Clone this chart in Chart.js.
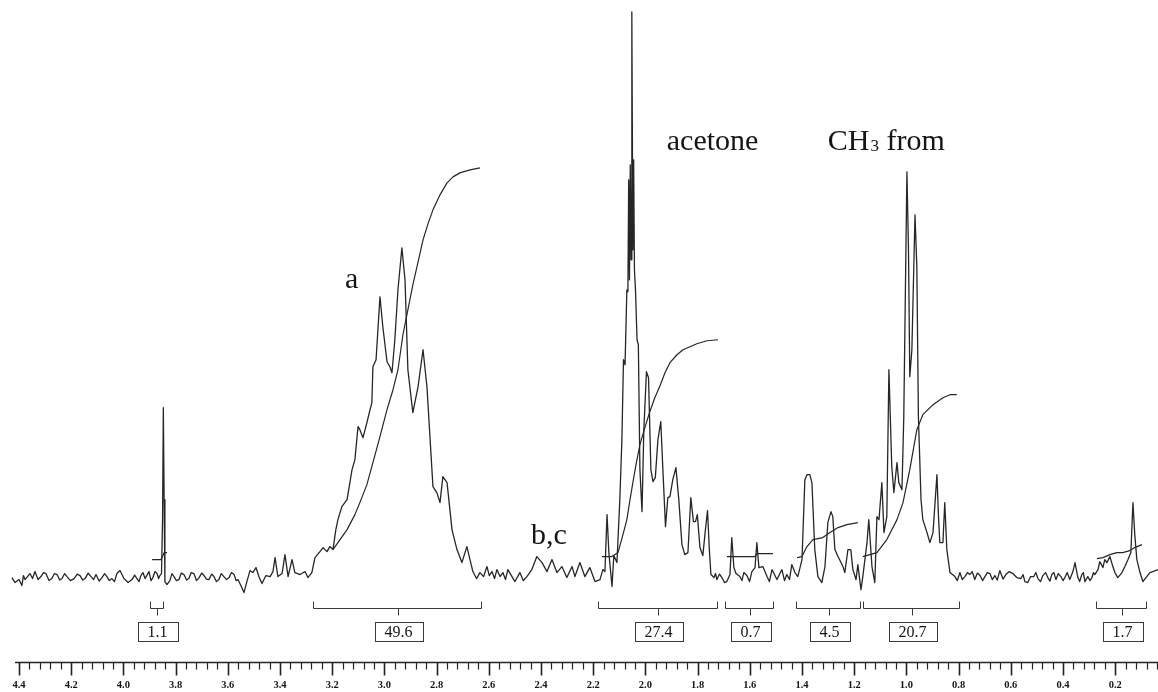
<!DOCTYPE html>
<html><head><meta charset="utf-8">
<script src="https://cdn.jsdelivr.net/npm/chart.js@4.4.1/dist/chart.umd.min.js"></script>
<style>html,body{margin:0;padding:0;background:#fff}canvas{display:block}</style>
</head><body>
<canvas id="c" width="1158" height="692"></canvas>
<script>
// ---- tick labels (ppm) ----
const tickLabels = ['4.4','4.2','4.0','3.8','3.6','3.4','3.2','3.0','2.8','2.6','2.4','2.2','2.0','1.8','1.6','1.4','1.2','1.0','0.8','0.6','0.4','0.2'];

// ---- 1H spectrum: [chemical shift ppm, intensity] ----
const spectrum = [
[4.427,0],[4.415,-1],[4.400,-0.4],[4.389,-1.6],[4.383,0.4],[4.377,-0.4],[4.358,0.8],[4.348,-0.2],[4.339,1.2],[4.327,-0.4],
[4.316,0.2],[4.306,1.0],[4.297,0.8],[4.285,-0.6],[4.274,-0.2],[4.264,0.8],[4.254,0.6],[4.244,-0.5],[4.235,-0.2],[4.225,0.8],
[4.216,0.2],[4.203,-0.6],[4.189,-0.2],[4.177,0.7],[4.166,0.4],[4.156,-0.5],[4.147,-0.2],[4.135,0.9],[4.124,0.2],[4.114,-0.4],
[4.105,0.6],[4.093,-0.7],[4.082,0],[4.072,0.8],[4.063,0.2],[4.054,-0.6],[4.044,-0.2],[4.034,-0.8],[4.025,0.8],[4.013,1.4],
[3.998,-0.2],[3.982,-1],[3.967,-0.4],[3.957,0.5],[3.948,-0.2],[3.940,-0.8],[3.933,0.4],[3.925,1.0],[3.917,-0.2],[3.902,1.2],
[3.894,-0.6],[3.887,0],[3.879,1.2],[3.871,0.8],[3.865,-0.2],[3.860,0.4],[3.854,0.8],[3.850,11.6],[3.847,34],[3.844,15.6],
[3.841,-0.8],[3.833,-1.4],[3.822,-0.6],[3.814,0.8],[3.806,0.2],[3.797,-0.6],[3.787,-0.4],[3.778,0.9],[3.768,0.6],[3.758,-0.5],
[3.749,-0.2],[3.740,1.0],[3.730,0.8],[3.720,-0.6],[3.710,0],[3.700,0.9],[3.691,0.4],[3.682,-0.3],[3.672,-0.4],[3.662,0.7],
[3.653,0.2],[3.644,-0.8],[3.634,-0.4],[3.625,0.8],[3.615,0.2],[3.605,-0.4],[3.595,0],[3.586,1.0],[3.576,0.6],[3.568,-0.6],
[3.561,-0.4],[3.550,-1.6],[3.538,-3],[3.527,-0.8],[3.515,1.4],[3.504,1],[3.492,2],[3.481,0.2],[3.469,-1.2],[3.454,0.4],
[3.438,0.2],
[3.427,1.2],[3.419,4],[3.408,0.2],[3.392,0.8],[3.381,4.6],[3.369,0.2],[3.354,3.6],[3.343,1],[3.323,0.6],[3.304,1.2],
[3.293,0],[3.278,1],[3.266,4],[3.247,5.2],[3.235,6],[3.220,5.2],[3.209,6.2],[3.197,5.6],[3.186,9.6],[3.178,11.6],
[3.163,14.2],[3.143,15.6],[3.124,21.6],[3.113,23.6],[3.101,30.2],[3.094,29.6],[3.082,28],[3.067,31],[3.055,33.6],[3.048,35],
[3.044,42.2],[3.032,43.6],[3.017,56.2],[3.006,50.2],[2.990,43.2],[2.979,42.2],[2.971,41],[2.960,47.6],[2.948,57.6],[2.933,66],
[2.921,59.6],[2.910,41.6],[2.891,33],[2.871,38.2],[2.852,45.6],[2.837,38.2],[2.814,18.2],[2.799,17],[2.787,15],[2.776,20.2],
[2.760,19],[2.741,9.6],[2.722,5.6],[2.703,3],[2.684,6.2],[2.672,3.6],[2.661,1.2],[2.647,-0.2],[2.634,1],[2.620,0.2],[2.607,2.2],
[2.598,0.4],[2.588,1.2],[2.578,-0.2],[2.569,1.6],[2.557,0.2],[2.546,1],[2.536,-0.4],[2.527,1.6],
[2.500,-0.8],[2.481,1],[2.468,-0.6],[2.454,0.2],[2.435,1.6],[2.416,4.2],[2.396,3],[2.377,1.2],[2.358,3.6],[2.339,1],[2.320,2.2],
[2.301,0],[2.281,2.2],[2.270,0.2],[2.251,3],[2.232,0.2],[2.213,2],[2.193,-0.8],[2.174,-0.4],[2.163,1.6],[2.155,1.2],
[2.147,12.6],[2.140,5],[2.128,-1.8],[2.121,4.4],[2.109,3],
[2.098,15.6],[2.090,27.6],[2.084,43.6],[2.078,42.6],[2.071,57.6],[2.067,57.2],[2.064,79.6],[2.061,59.6],[2.058,82.6],[2.055,63.6],
[2.052,113.2],[2.048,65.6],[2.045,83.6],[2.042,61.6],[2.038,57.6],[2.032,47.6],[2.027,46.6],[2.021,21.6],[2.013,13.2],[2.006,29.6],
[1.996,41.2],[1.988,40],[1.979,21.6],[1.971,19.2],[1.962,20],[1.952,27.6],[1.941,31.2],[1.933,21.6],[1.923,10.2],[1.914,16],
[1.906,16.2],[1.895,19.6],[1.883,22],[1.872,15.6],[1.860,6.6],[1.849,4.6],[1.837,5],[1.826,16],[1.816,11.2],[1.808,11.2],
[1.801,12.6],[1.791,6],[1.780,4.4],[1.770,9.6],[1.762,13.4],[1.755,5.6],[1.749,0.6],
[1.737,0],[1.731,0.8],[1.726,-0.4],[1.716,0.7],[1.707,0],[1.697,-1.0],[1.688,-0.8],[1.676,0.6],[1.669,8],[1.661,2],[1.653,0.8],
[1.638,0.2],[1.630,-0.6],[1.623,1],[1.611,0.4],[1.601,-0.8],[1.592,1.2],[1.580,2],[1.573,7],[1.565,2],[1.550,2.2],[1.534,0.2],
[1.525,-0.8],[1.515,1.6],[1.496,-0.4],[1.477,1.6],[1.467,-0.6],[1.458,0.6],[1.448,-0.4],[1.439,2.6],[1.427,1],[1.416,0.2],[1.400,3.6],
[1.389,19.6],[1.381,20.6],[1.370,20.6],[1.362,19],[1.351,5.6],[1.339,0.2],[1.324,-1],[1.312,2.2],[1.301,11],[1.289,13.2],
[1.282,12.2],[1.274,5.6],[1.262,4.2],[1.243,2.2],[1.236,1],[1.224,5.6],[1.213,5.6],[1.205,1.6],[1.193,-0.4],[1.186,2.6],
[1.174,-2.4],[1.167,0.2],[1.151,7],[1.144,11.6],[1.132,2.2],[1.121,-1],[1.113,12.2],[1.105,11.6],[1.094,19],[1.086,9],
[1.075,12.2],[1.067,41.6],[1.056,22.2],[1.048,17],[1.036,23],[1.029,19],[1.017,17.6],[1.010,32.2],[0.998,81.2],[0.992,65.6],
[0.987,40.2],[0.979,45.6],[0.967,72.6],[0.960,62.2],[0.954,32.2],[0.944,15.6],[0.937,11.6],[0.921,9],[0.910,7],[0.898,9],
[0.883,20.6],[0.877,12.2],[0.872,7],[0.860,7],[0.853,15],[0.845,5.6],[0.833,1],[0.814,0.2],
[0.805,-0.6],[0.795,1],[0.786,-0.4],[0.776,0.2],[0.766,1.0],[0.757,0.6],[0.748,1.2],[0.738,-0.4],[0.728,0.9],[0.718,0.4],
[0.708,-0.6],[0.699,0.2],[0.690,1.0],[0.680,0.8],[0.671,-0.4],[0.661,0.4],[0.652,-0.5],[0.642,1.4],[0.630,-0.3],[0.619,0.6],
[0.606,1.2],[0.592,0.8],[0.577,0],[0.561,-0.2],[0.553,0.6],[0.546,-0.8],[0.535,-1],[0.524,0.2],[0.512,0.2],[0.504,1.0],
[0.496,-0.2],[0.486,-0.8],[0.477,0.4],[0.467,1.0],[0.458,0],[0.450,-0.7],[0.443,0.6],[0.435,1.0],[0.427,-0.4],[0.418,0.8],
[0.408,0.2],[0.400,-0.6],[0.393,0],[0.384,1.0],[0.374,-0.4],[0.362,1.2],[0.354,3],[0.343,0],[0.336,-0.8],[0.328,0.6],
[0.322,1.0],[0.316,-0.8],[0.305,0.2],[0.297,-0.6],[0.289,0],[0.283,1.0],[0.278,0.6],[0.266,1.6],[0.259,3.2],[0.247,2],
[0.240,3.6],[0.232,3],[0.220,4.2],[0.209,2.2],[0.201,1],[0.190,0],[0.174,1],[0.163,2.2],[0.151,3.6],[0.140,5],
[0.132,15],[0.125,8.6],[0.117,3.6],[0.105,1],[0.094,-0.8],[0.079,0.2],[0.067,1],[0.056,1.2],[0.036,1.6]
];

// ---- integral traces: [ppm, integral level] ----
const integralCurve1 = [[3.890,3.6],[3.856,3.6],[3.850,4.2],[3.844,5],[3.833,5]];
const integralCurve2 = [[3.197,5.6],[3.170,7.6],[3.143,9.6],[3.113,12.6],[3.094,15],[3.067,18.6],[3.044,23],[3.017,28.2],[2.990,33.6],[2.967,37.6],[2.948,41.6],[2.929,48.6],[2.910,53.6],[2.891,58.6],[2.871,63.2],[2.852,67.6],[2.833,70.8],[2.814,73.6],[2.787,76.6],[2.760,79],[2.737,80.2],[2.711,81],[2.672,81.6],[2.634,82]];
const integralCurve3 = [[2.167,4.2],[2.128,4.2],[2.105,5],[2.086,8.6],[2.071,11.6],[2.059,15.6],[2.048,19],[2.036,22.6],[2.021,26.6],[2.002,30],[1.983,33.2],[1.964,36],[1.944,38.4],[1.925,41],[1.906,43],[1.879,44.6],[1.856,45.6],[1.829,46.2],[1.803,46.8],[1.764,47.4],[1.722,47.6]];
const integralCurve4 = [[1.688,4.2],[1.580,4.2],[1.573,4.8],[1.511,4.8]];
const integralCurve5 = [[1.419,4],[1.400,4.2],[1.381,6.2],[1.358,7.6],[1.320,8],[1.293,9],[1.262,10],[1.228,10.6],[1.186,11]];
const integralCurve6 = [[1.167,4.2],[1.113,5],[1.075,7.6],[1.036,11.6],[1.013,15],[0.987,21.6],[0.960,29.6],[0.937,32.6],[0.898,34.6],[0.860,36],[0.833,36.6],[0.807,36.6]];
const integralCurve7 = [[0.270,3.8],[0.247,4],[0.220,4.6],[0.194,5],[0.171,5],[0.144,5.4],[0.125,6],[0.098,6.6]];

// ---- integration regions (ppm from, to) and their values ----
const integralRanges = [[3.898,3.848],[3.274,2.630],[2.182,1.726],[1.695,1.511],[1.423,1.178],[1.166,0.799],[0.274,0.083]];
const integralValues = ['1.1','49.6','27.4','0.7','4.5','20.7','1.7'];

// ---- peak annotations ----
const peakLabels = [
  {text:'a', shift:3.151, level:58},
  {text:'b,c', shift:2.438, level:6.8},
  {text:'acetone', shift:1.918, level:85.6},
  {text:'CH', sub:'3', tail:' from', shift:1.301, level:85.6}
];

const INK = '#262626';
const toXY = a => a.map(([x,y]) => ({x, y}));
const integralCurves = [integralCurve1,integralCurve2,integralCurve3,integralCurve4,integralCurve5,integralCurve6,integralCurve7];

const decor = {
  id: 'decor',
  afterDatasetsDraw(chart) {
    const {ctx, chartArea, scales:{x, y}} = chart;
    ctx.save();
    ctx.fillStyle = '#151515';
    ctx.strokeStyle = '#3a3a3a';
    // peak labels
    ctx.textAlign = 'left'; ctx.textBaseline = 'alphabetic';
    peakLabels.forEach(l => {
      let px = x.getPixelForValue(l.shift);
      const py = y.getPixelForValue(l.level);
      ctx.font = '30px "Liberation Serif"';
      ctx.fillText(l.text, px, py);
      if (l.sub) {
        px += ctx.measureText(l.text).width + 1;
        ctx.font = '17px "Liberation Serif"';
        ctx.fillText(l.sub, px, py + 1);
        px += ctx.measureText(l.sub).width;
        ctx.font = '30px "Liberation Serif"';
        ctx.fillText(l.tail, px, py);
      }
    });
    // integral brackets and boxes
    const by = Math.round(chartArea.bottom - 54) + 0.5;
    ctx.lineWidth = 1;
    integralRanges.forEach((r, i) => {
      const x1 = Math.round(x.getPixelForValue(r[0])) + 0.5;
      const x2 = Math.round(x.getPixelForValue(r[1])) + 0.5;
      const xc = Math.round((x1 + x2) / 2) + 0.5;
      ctx.beginPath();
      ctx.moveTo(x1, by - 7); ctx.lineTo(x1, by); ctx.lineTo(x2, by); ctx.lineTo(x2, by - 7);
      ctx.moveTo(xc, by); ctx.lineTo(xc, by + 7);
      ctx.stroke();
      ctx.font = '16px "Liberation Serif"';
      const w = Math.round(ctx.measureText(integralValues[i]).width + 20);
      ctx.strokeRect(Math.round(xc - w / 2) + 0.5, by + 14, w, 19);
      ctx.textAlign = 'center'; ctx.textBaseline = 'middle';
      ctx.fillText(integralValues[i], xc, by + 24);
    });
    // axis line and tick marks
    const ay = Math.round(chartArea.bottom) + 0.5;
    ctx.strokeStyle = '#222';
    ctx.lineWidth = 1.5;
    ctx.beginPath();
    ctx.moveTo(x.getPixelForValue(4.415), ay); ctx.lineTo(chartArea.right, ay);
    ctx.stroke();
    for (let n = 0; n <= 110; n++) {
      const v = 4.4 - 0.04 * n;
      const px = x.getPixelForValue(v);
      if (px > chartArea.right) break;
      const major = n % 5 === 0;
      ctx.lineWidth = major ? 1.6 : 1.2;
      ctx.beginPath();
      ctx.moveTo(Math.round(px) + 0.5, ay);
      ctx.lineTo(Math.round(px) + 0.5, ay + (major ? 13 : 7));
      ctx.stroke();
    }
    ctx.restore();
  }
};

new Chart(document.getElementById('c'), {
  type: 'line',
  data: {
    datasets: [
      {data: toXY(spectrum), borderColor: INK, borderWidth: 1.3},
      ...integralCurves.map(c => ({data: toXY(c), borderColor: INK, borderWidth: 1.2}))
    ]
  },
  options: {
    responsive: false,
    animation: false,
    events: [],
    layout: {padding: 0},
    elements: {point: {radius: 0}, line: {tension: 0, borderJoinStyle: 'round', fill: false}},
    plugins: {legend: {display: false}, tooltip: {enabled: false}, title: {display: false}},
    scales: {
      x: {
        type: 'linear', reverse: true, min: 0.036, max: 4.4728,
        afterBuildTicks: s => { s.ticks = tickLabels.map(t => ({value: parseFloat(t)})); },
        grid: {display: false, drawTicks: true, tickLength: 18},
        border: {display: false},
        ticks: {padding: 1, color: '#151515', maxRotation: 0, autoSkip: false,
                font: {family: 'Liberation Serif', size: 10.5, weight: 'bold', lineHeight: 1},
                callback: v => Number(v).toFixed(1)}
      },
      y: {type: 'linear', display: false, min: -16.8, max: 115.6}
    }
  },
  plugins: [decor]
});
</script>
</body></html>
